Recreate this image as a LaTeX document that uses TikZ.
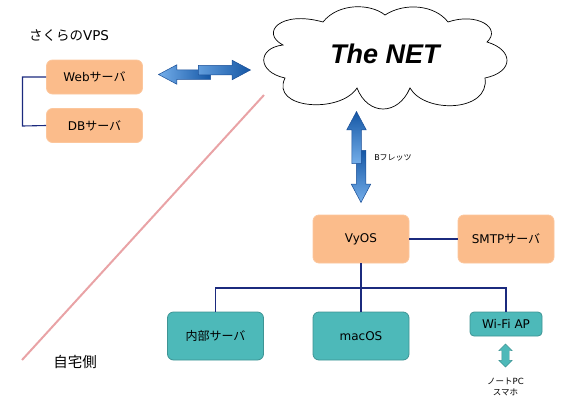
\documentclass[tikz,border=0pt]{standalone}
\usepackage{fontspec}
\setmainfont{DejaVu Sans}
\newfontfamily\cjk{Noto Sans CJK JP}
\newfontfamily\cloudfont{Liberation Sans}
\usetikzlibrary{shapes.arrows}
\definecolor{boxorange}{HTML}{FBBC8B}
\definecolor{boxteal}{HTML}{4DB9B9}
\definecolor{wirenavy}{HTML}{1B2A7E}
\definecolor{linepink}{HTML}{E9A3A6}
\definecolor{arrowdark}{HTML}{1557A5}
\definecolor{arrowlight}{HTML}{74AEEA}
\definecolor{arrowedge}{HTML}{1A4E96}

\begin{document}
\begin{tikzpicture}[
		x=1pt,
		y=-1pt,
		server/.style={
			draw=boxorange!85!white, fill=boxorange, rounded corners=6pt,
			inner sep=0pt, align=center, line width=0.8pt,
			minimum width=96pt,
			font=\fontsize{12}{14}\selectfont
		},
		client/.style={server, draw=boxteal!80!black, fill=boxteal},
		label/.style={inner sep=0pt, align=center},
		wire/.style={draw=wirenavy, line width=1.1pt},
		blockarrow/.style={
			single arrow, draw=arrowedge, line width=0.5pt, inner sep=0pt,
			minimum height=52pt, anchor=tip,
			single arrow head extend=5pt,
			single arrow tip angle=56
		},
		flat/.style={text height=9pt, text depth=0pt, text width=0pt},
		upright/.style={text height=0pt, text depth=0pt, text width=9pt}
		]
		\useasboundingbox (0,0) rectangle (576,402);
		
		% the cloud
		\draw[line width=0.7pt, fill=white] (283,45)
			.. controls (260,33) and (280,10) .. (323,22)
			.. controls (338,3) and (370,3) .. (385,15)
			.. controls (405,2) and (435,5) .. (448,22)
			.. controls (477,12) and (502,28) .. (487,42)
			.. controls (514,50) and (514,72) .. (485,78)
			.. controls (490,112) and (425,114) .. (410,88)
			.. controls (398,116) and (368,116) .. (357,88)
			.. controls (340,114) and (270,109) .. (285,78)
			.. controls (257,72) and (257,48) .. (283,45) -- cycle;
		\node[label, font=\cloudfont\fontsize{27}{30}\selectfont\bfseries\itshape] (net) at (385,54) {The NET};
		
		% servers
		\node[server, minimum height=34pt] (web) at (94.5,77) {Web{\cjk サーバ}};
		\node[server, minimum height=34pt] (db) at (94.5,125.5) {DB{\cjk サーバ}};
		\node[server, minimum height=48pt] (vyos) at (361,239) {VyOS};
		\node[server, minimum height=48pt] (smtp) at (506,239) {SMTP{\cjk サーバ}};
		\node[client, minimum height=48pt] (inner) at (215.5,336) {{\cjk 内部サーバ}};
		\node[client, minimum height=48pt] (mac) at (361,336) {macOS};
		\node[client, minimum height=24pt, minimum width=72pt, rounded corners=4pt] (wifi) at (506,324) {Wi-Fi AP};
		
		% wires
		\draw[wire] (web.west) -- (22.5,77) -- (22.5,126) -- (db.west);
		\draw[wire] (vyos.east) -- (smtp.west);
		\draw[wire] (vyos.south) -- (mac.north);
		\draw[wire] (inner.north) -- (215.5,288) -- (506,288) -- (wifi.north);
		
		% border between the two sides
		\coordinate (borderA) at (22,360);
		\coordinate (borderB) at (264,95);
		\draw[draw=linepink, line width=2pt] (borderA) -- (borderB);
		
		% arrows
		\node[blockarrow, flat, shape border rotate=180, left color=arrowlight, right color=arrowdark] (leftarrow) at (158,74.5) {};
		\node[blockarrow, flat, right color=arrowdark, left color=arrowlight!80!arrowdark] (rightarrow) at (251,70) {};
		\node[blockarrow, upright, shape border rotate=270, top color=arrowdark, bottom color=arrowlight] (downarrow) at (361,203) {};
		\node[blockarrow, upright, shape border rotate=90, top color=arrowdark, bottom color=arrowlight] (uparrow) at (356.5,111) {};
		\node[double arrow, draw=boxteal!80!black, fill=boxteal, text height=0pt, text depth=0pt, text width=7pt, minimum height=23pt, double arrow head extend=3pt, inner sep=0pt, shape border rotate=90] (wifiarrow) at (505.5,355.5) {};
		
		% labels
		\node[label, font=\fontsize{13.5}{16}\selectfont] (vps) at (69,36) {{\cjk さくらの}VPS};
		\node[label, font=\fontsize{14.5}{17}\selectfont] (home) at (75,362) {{\cjk 自宅側}};
		\node[label, font=\fontsize{8}{10}\selectfont] (flets) at (393,158) {B{\cjk フレッツ}};
		\node[label, font=\fontsize{8.5}{10.5}\selectfont] (note) at (505.5,387) {{\cjk ノート}PC\\{\cjk スマホ}};
	\end{tikzpicture}
\end{document}
